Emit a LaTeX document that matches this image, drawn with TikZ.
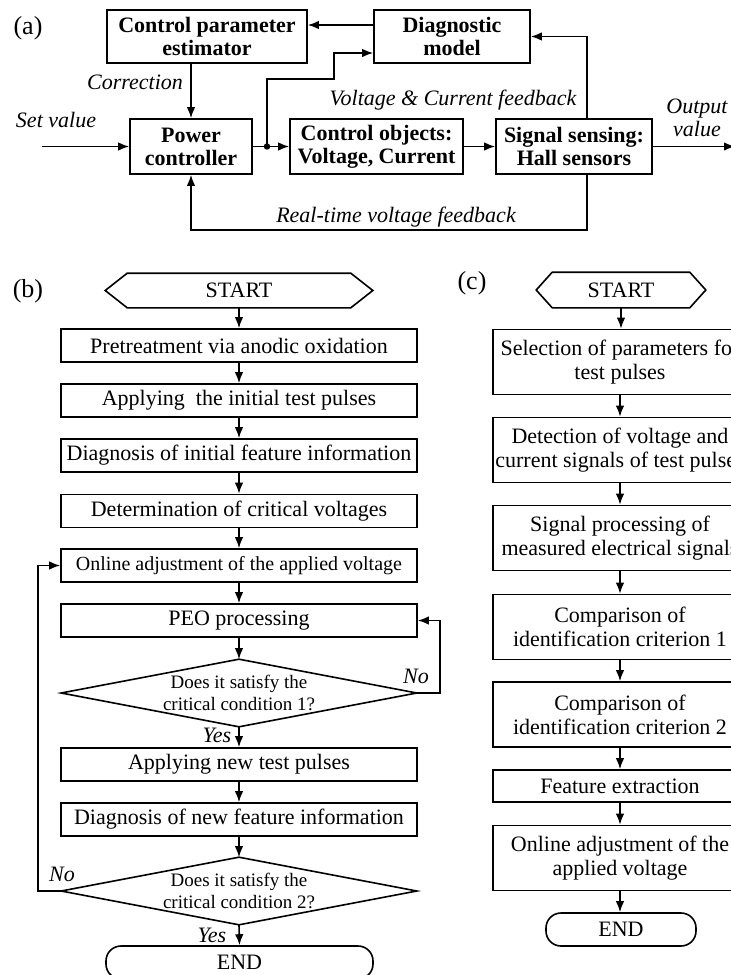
\documentclass[tikz,border=0pt]{standalone}
\usepackage{fontspec}
\setmainfont{Liberation Serif}
\usetikzlibrary{arrows.meta,calc}
\newcommand{\drawhexagon}[2]{%
  \draw (#1.west) -- ($(#1.north west)+(#2,0)$) -- ($(#1.north east)+(-#2,0)$) -- (#1.east)
        -- ($(#1.south east)+(-#2,0)$) -- ($(#1.south west)+(#2,0)$) -- cycle;}
\newcommand{\drawrhombus}[1]{%
  \draw (#1.west) -- (#1.north) -- (#1.east) -- (#1.south) -- cycle;}
\begin{document}
\begin{tikzpicture}[x=1pt,y=-1pt,line width=1.6pt,
  arr/.style={-{Latex[length=11pt,width=8.5pt]}},
  ablock/.style={draw,rectangle,inner sep=0pt,align=center,font=\fontsize{22}{23}\selectfont\bfseries},
  flowbox/.style={draw,rectangle,inner sep=0pt,align=center,font=\fontsize{22}{24}\selectfont},
  plain/.style={inner sep=0pt,align=center,font=\fontsize{22}{24}\selectfont},
  dtext/.style={inner sep=0pt,align=center,font=\fontsize{19}{22}\selectfont},
  lbl/.style={inner sep=0pt,align=center,font=\fontsize{22}{23}\selectfont\itshape},
  panel/.style={inner sep=0pt,font=\fontsize{26}{28}\selectfont},
  bw/.style={minimum width=356pt,minimum height=33pt},
  cw/.style={minimum width=254pt,minimum height=65pt}]
\useasboundingbox (0,0) rectangle (731,975);
\clip (0,0) rectangle (731,975);

% ---------------- (a) ----------------
\node[panel] (pa) at (28,28) {(a)};
\node[ablock,minimum width=200pt,minimum height=53pt] (cpe) at (207,36.5) {Control parameter\\estimator};
\node[ablock,minimum width=156pt,minimum height=53pt] (diag) at (452,36.5) {Diagnostic\\model};
\node[ablock,minimum width=122pt,minimum height=55pt] (pc) at (191,146.5) {Power\\controller};
\node[ablock,minimum width=173pt,minimum height=55pt] (co) at (376.5,146.5) {Control objects:\\Voltage, Current};
\node[ablock,minimum width=156pt,minimum height=55pt] (ss) at (574,146.5) {Signal sensing:\\Hall sensors};

\node[lbl] (corr) at (135,82) {Correction};
\node[lbl] (setv) at (56,120) {Set value};
\node[lbl] (vcf) at (453,100) {Voltage \& Current feedback};
\node[lbl] (outv) at (697,118) {Output\\value};
\node[lbl] (rtf) at (396,217) {Real-time voltage feedback};

\coordinate (sv) at (42,146.5);
\coordinate (ov) at (735,146.5);
\coordinate (j) at (267,146.5);
\draw[arr] (sv) -- (pc.west);
\draw (pc.east) -- (j);
\draw[arr] (j) -- (co.west);
\fill (j) circle (3.2pt);
\draw[arr] (j) -- ++(0,-67.5) -- ++(67,0) |- ($(diag.west)+(0,16.5)$);
\draw[arr] ($(diag.west)+(0,-11.5)$) -- ($(cpe.east)+(0,-11.5)$);
\draw[arr] (pc.north |- cpe.south) -- (pc.north);
\draw[arr] (co.east) -- (ss.west);
\draw[arr] (ss.east) -- (ov);
\draw[arr] ($(ss.north)+(13,0)$) |- (diag.east);
\draw[arr] ($(ss.south)+(13,0)$) -- ++(0,55) -| (pc.south);

% ---------------- (b) ----------------
\node[panel] (pb) at (28,291) {(b)};
\node[plain,minimum width=266pt,minimum height=33pt] (sb) at (239,290.5) {START};
\drawhexagon{sb}{22}
\node[flowbox,bw] (b1) at (239,345.5) {Pretreatment via anodic oxidation};
\node[flowbox,bw] (b2) at (239,400.5) {Applying~ the initial test pulses};
\node[flowbox,bw] (b3) at (239,455.5) {Diagnosis of initial feature information};
\node[flowbox,bw] (b4) at (239,511) {Determination of critical voltages};
\node[flowbox,bw,font=\fontsize{20}{24}\selectfont] (b5) at (239,565.5) {Online adjustment of the applied voltage};
\node[flowbox,bw] (b6) at (239,620.5) {PEO processing};
\node[dtext,minimum width=354pt,minimum height=66pt] (d1) at (239,693) {Does it satisfy the\\critical condition 1?};
\drawrhombus{d1}
\node[flowbox,bw] (b7) at (239,764.5) {Applying new test pulses};
\node[flowbox,bw] (b8) at (239,819.5) {Diagnosis of new feature information};
\node[dtext,minimum width=354pt,minimum height=66pt] (d2) at (239,891) {Does it satisfy the\\critical condition 2?};
\drawrhombus{d2}
\node[flowbox,rounded corners=15pt,minimum width=267pt,minimum height=33pt] (eb) at (239.5,962.5) {END};

\draw[arr] (sb.south) -- (b1.north);
\draw[arr] (b1.south) -- (b2.north);
\draw[arr] (b2.south) -- (b3.north);
\draw[arr] (b3.south) -- (b4.north);
\draw[arr] (b4.south) -- (b5.north);
\draw[arr] (b5.south) -- (b6.north);
\draw[arr] (b6.south) -- (d1.north);
\draw[arr] (d1.south) -- (b7.north);
\draw[arr] (b7.south) -- (b8.north);
\draw[arr] (b8.south) -- (d2.north);
\draw[arr] (d2.south) -- (eb.north);
\draw[arr] (d1.east) -- ++(23,0) |- (b6.east);
\draw[arr] (d2.west) -- ++(-23,0) |- (b5.west);
\node[lbl] (no1) at (416,676) {No};
\node[lbl] (yes1) at (217,735) {Yes};
\node[lbl] (no2) at (62,874) {No};
\node[lbl] (yes2) at (212,935) {Yes};

% ---------------- (c) ----------------
\node[panel] (pcl) at (472,283) {(c)};
\node[plain,minimum width=168pt,minimum height=34pt] (sc) at (621,290) {START};
\drawhexagon{sc}{16}
\node[flowbox,cw] (c1) at (620,362) {Selection of parameters for\\test pulses};
\node[flowbox,cw] (c2) at (620,450) {Detection of voltage and\\current signals of test pulses};
\node[flowbox,cw] (c3) at (620,538) {Signal processing of\\measured electrical signals};
\node[flowbox,cw] (c4) at (620,627) {Comparison of\\identification criterion 1};
\node[flowbox,cw] (c5) at (620,714.5) {Comparison of\\identification criterion 2};
\node[flowbox,minimum width=254pt,minimum height=32pt] (c6) at (620,786) {Feature extraction};
\node[flowbox,cw] (c7) at (620,858) {Online adjustment of the\\applied voltage};
\node[flowbox,rounded corners=15pt,minimum width=150pt,minimum height=33pt] (ec) at (621,929.5) {END};

\draw[arr] (sc.south) -- (sc.south |- c1.north);
\draw[arr] (c1.south) -- (c2.north);
\draw[arr] (c2.south) -- (c3.north);
\draw[arr] (c3.south) -- (c4.north);
\draw[arr] (c4.south) -- (c5.north);
\draw[arr] (c5.south) -- (c6.north);
\draw[arr] (c6.south) -- (c7.north);
\draw[arr] (c7.south) -- (c7.south |- ec.north);
\end{tikzpicture}
\end{document}
